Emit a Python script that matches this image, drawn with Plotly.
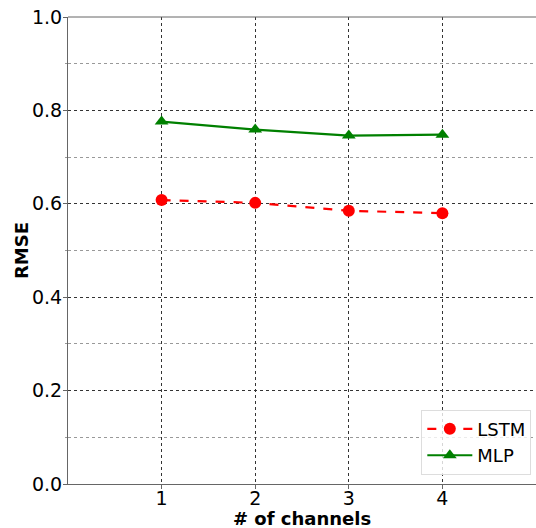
import plotly.graph_objects as go

channels = [1, 2, 3, 4]
lstm_rmse = [0.608, 0.602, 0.585, 0.580]
mlp_rmse = [0.776, 0.759, 0.746, 0.748]

fig = go.Figure()
fig.add_trace(go.Scatter(
    x=channels, y=lstm_rmse, name="LSTM", mode="lines+markers",
    line=dict(color="red", width=2.2, dash="dash"),
    marker=dict(symbol="circle", size=12, color="red"),
))
fig.add_trace(go.Scatter(
    x=channels, y=mlp_rmse, name="MLP", mode="lines+markers",
    line=dict(color="green", width=2.2),
    marker=dict(symbol="triangle-up", size=12, color="green"),
))

font_family = "DejaVu Sans"
fig.update_layout(
    width=536, height=528,
    margin=dict(l=68, r=0, t=17, b=44),
    plot_bgcolor="white", paper_bgcolor="white",
    font=dict(family=font_family, size=18, color="black"),
    showlegend=True,
    legend=dict(
        x=0.99, y=0.02, xanchor="right", yanchor="bottom",
        bgcolor="rgba(255,255,255,0.8)", bordercolor="#dddddd", borderwidth=1,
        font=dict(size=18), itemwidth=45,
    ),
)
fig.update_xaxes(
    range=[0, 5], tickvals=[1, 2, 3, 4], ticktext=["1", "2", "3", "4"],
    showgrid=True, gridcolor="#333333", griddash="dot", gridwidth=1,
    showline=True, linecolor="#666666", linewidth=1,
    ticks="outside", ticklen=4, tickcolor="#666666",
    zeroline=False, tickfont=dict(size=19), ticklabelstandoff=-7,
)
fig.update_yaxes(
    range=[0, 1.0], tickvals=[0, 0.2, 0.4, 0.6, 0.8, 1.0],
    ticktext=["0.0", "0.2", "0.4", "0.6", "0.8", "1.0"],
    showgrid=True, gridcolor="#333333", griddash="dot", gridwidth=1,
    minor=dict(tickvals=[0.1, 0.3, 0.5, 0.7, 0.9], showgrid=True,
               gridcolor="#999999", griddash="dot", gridwidth=1,
               ticks="outside", ticklen=2, tickcolor="#999999"),
    showline=True, linecolor="#666666", linewidth=1,
    ticks="outside", ticklen=4, tickcolor="#666666",
    zeroline=False, tickfont=dict(size=19), ticklabelstandoff=-3,
)
fig.add_shape(type="line", xref="paper", yref="paper", x0=0, x1=1, y0=1, y1=1,
              line=dict(color="#666666", width=1))
fig.add_annotation(text="<b># of channels</b>", xref="paper", yref="paper",
                   x=0.5, y=0, yshift=-22, xanchor="center", yanchor="top",
                   showarrow=False, font=dict(size=18))
fig.add_annotation(text="<b>RMSE</b>", xref="paper", yref="paper",
                   x=0, y=0.5, xshift=-34, xanchor="right", yanchor="middle",
                   textangle=-90, showarrow=False, font=dict(size=18))

fig.write_html("out.html")
